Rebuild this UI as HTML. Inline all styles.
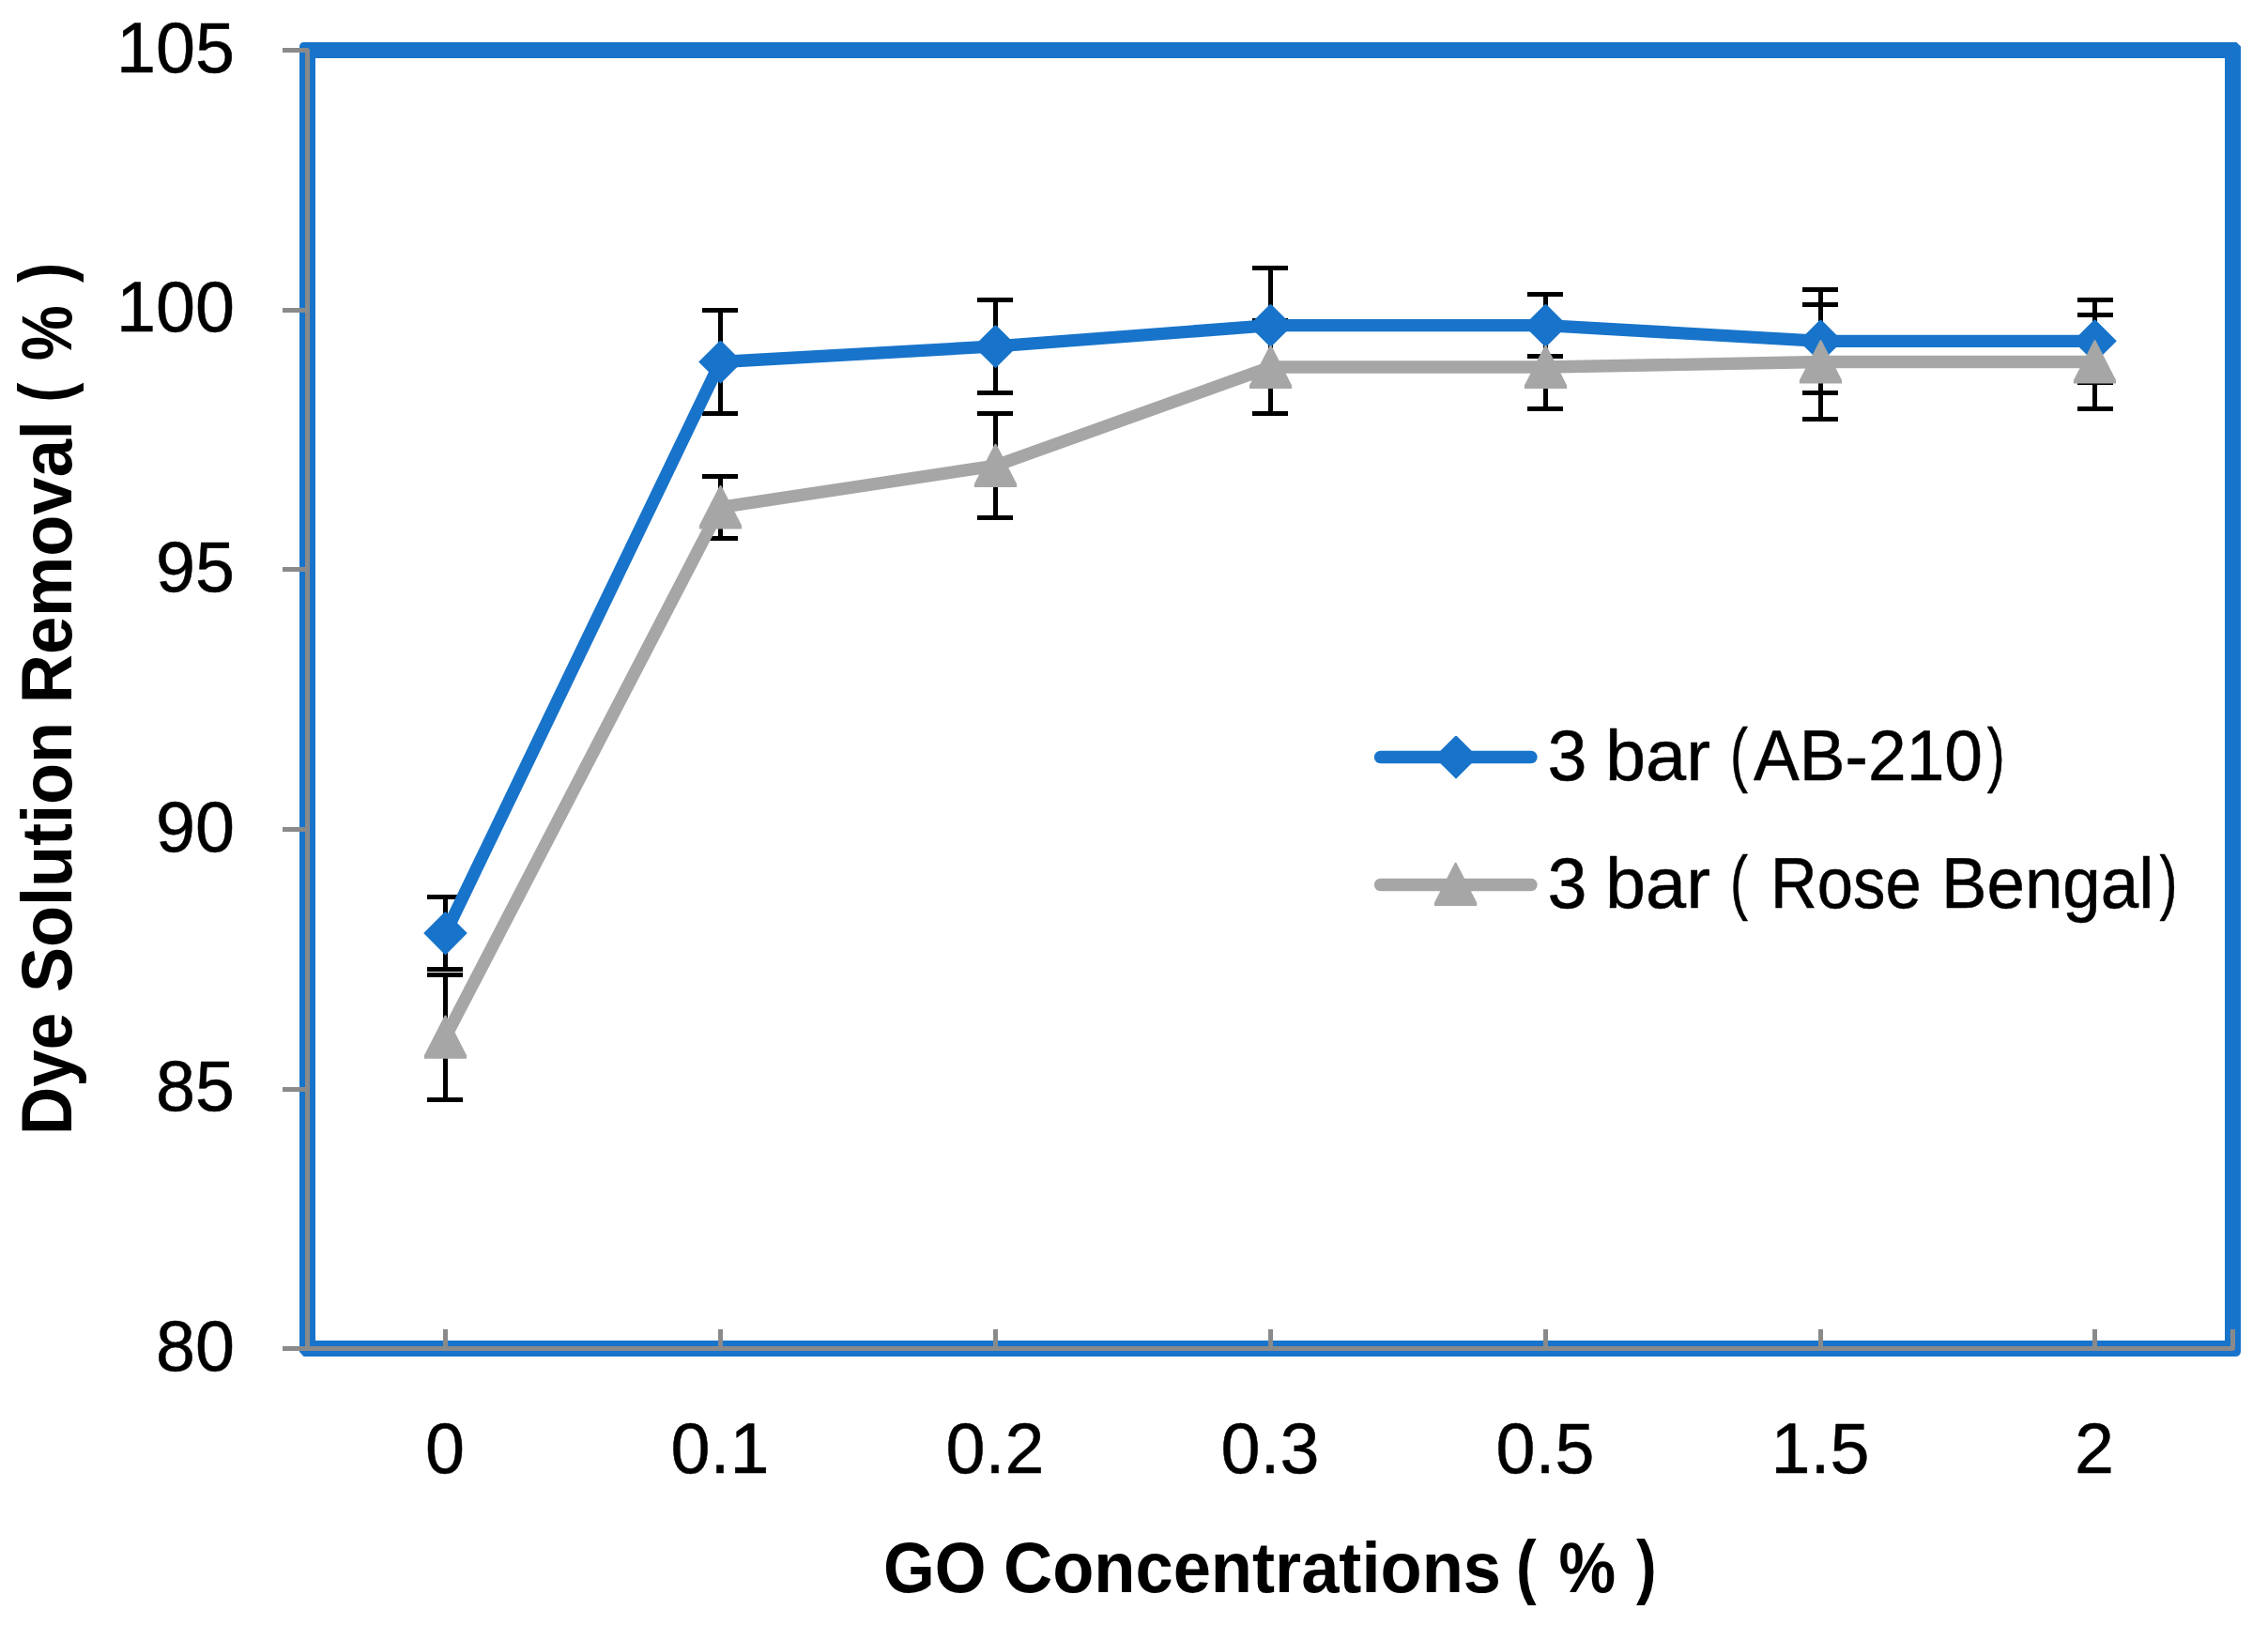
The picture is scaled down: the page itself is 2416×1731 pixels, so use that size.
<!DOCTYPE html>
<html lang="en"><head><meta charset="utf-8"><title>Dye Solution Removal vs GO Concentrations</title>
<style>html,body{margin:0;padding:0;background:#fff;}body{width:2416px;height:1731px;overflow:hidden;}svg{display:block;}text{font-family:"Liberation Sans",Arial,sans-serif;fill:#000;}.r{stroke:#000;stroke-width:0.5px;stroke-linejoin:round;}</style></head><body>
<svg width="2416" height="1731" viewBox="0 0 2416 1731">
<rect width="2416" height="1731" fill="#fff"/>
<path d="M323.5,45 L2382.5,45 L2387,49.5 L2387,1439.5 A5.5,5.5 0 0 1 2381.5,1445 L323.5,1445 L319,1440.0 L319,49.5 A4.5,4.5 0 0 1 323.5,45 Z M336,62 L336,1428 L2370,1428 L2370,62 Z" fill="#1874CA" fill-rule="evenodd"/>
<g fill="#8A8A8A">
<path d="M301,51 L328,51 L330,53 L330,1434 L2376,1434 L2376,1416 L2381,1416 L2381,1437 L2379,1439 L301,1439 L301,1434 L325,1434 L325,56 L301,56 Z"/>
<rect x="301" y="328" width="27" height="5"/>
<rect x="301" y="604" width="27" height="5"/>
<rect x="301" y="881" width="27" height="5"/>
<rect x="301" y="1158" width="27" height="5"/>
<rect x="472.0" y="1416" width="5" height="20"/>
<rect x="765.0" y="1416" width="5" height="20"/>
<rect x="1058.0" y="1416" width="5" height="20"/>
<rect x="1351.0" y="1416" width="5" height="20"/>
<rect x="1644.0" y="1416" width="5" height="20"/>
<rect x="1937.0" y="1416" width="5" height="20"/>
<rect x="2229.0" y="1416" width="5" height="20"/>
</g>
<g fill="#000">
<rect x="472" y="953" width="5" height="82"/>
<rect x="455" y="953" width="38" height="5"/>
<rect x="455" y="1030" width="38" height="5"/>
<rect x="765" y="328" width="5" height="115"/>
<rect x="748" y="328" width="38" height="5"/>
<rect x="748" y="438" width="38" height="5"/>
<rect x="1058" y="317" width="5" height="104"/>
<rect x="1041" y="317" width="38" height="5"/>
<rect x="1041" y="416" width="38" height="5"/>
<rect x="1351" y="283" width="5" height="127"/>
<rect x="1334" y="283" width="38" height="5"/>
<rect x="1334" y="405" width="38" height="5"/>
<rect x="1644" y="311" width="5" height="71"/>
<rect x="1627" y="311" width="38" height="5"/>
<rect x="1627" y="377" width="38" height="5"/>
<rect x="1937" y="306" width="5" height="115"/>
<rect x="1920" y="306" width="38" height="5"/>
<rect x="1920" y="416" width="38" height="5"/>
<rect x="2229" y="317" width="5" height="93"/>
<rect x="2213" y="317" width="38" height="5"/>
<rect x="2213" y="405" width="38" height="5"/>
<rect x="472" y="1036" width="5" height="138"/>
<rect x="455" y="1036" width="38" height="5"/>
<rect x="455" y="1169" width="38" height="5"/>
<rect x="765" y="505" width="5" height="71"/>
<rect x="748" y="505" width="38" height="5"/>
<rect x="748" y="571" width="38" height="5"/>
<rect x="1058" y="438" width="5" height="116"/>
<rect x="1041" y="438" width="38" height="5"/>
<rect x="1041" y="549" width="38" height="5"/>
<rect x="1351" y="339" width="5" height="104"/>
<rect x="1334" y="339" width="38" height="5"/>
<rect x="1334" y="438" width="38" height="5"/>
<rect x="1644" y="344" width="5" height="94"/>
<rect x="1627" y="344" width="38" height="5"/>
<rect x="1627" y="433" width="38" height="5"/>
<rect x="1937" y="322" width="5" height="127"/>
<rect x="1920" y="322" width="38" height="5"/>
<rect x="1920" y="444" width="38" height="5"/>
<rect x="2229" y="333" width="5" height="105"/>
<rect x="2213" y="333" width="38" height="5"/>
<rect x="2213" y="433" width="38" height="5"/>
</g>
<polyline points="474.5,994.1 767.5,385.5 1060.5,368.9 1353.5,346.7 1646.5,346.7 1939.5,363.3 2231.5,363.3" fill="none" stroke="#1874CA" stroke-width="13.3" stroke-linejoin="round" stroke-linecap="round"/>
<g fill="#1874CA"><path d="M473.7,971.6 L475.3,971.6 L497.8,994.1 L474.5,1017.4 L451.2,994.1 Z"/><path d="M766.7,363.0 L768.3,363.0 L790.8,385.5 L767.5,408.8 L744.2,385.5 Z"/><path d="M1059.7,346.4 L1061.3,346.4 L1083.8,368.9 L1060.5,392.2 L1037.2,368.9 Z"/><path d="M1352.7,324.2 L1354.3,324.2 L1376.8,346.7 L1353.5,370.0 L1330.2,346.7 Z"/><path d="M1645.7,324.2 L1647.3,324.2 L1669.8,346.7 L1646.5,370.0 L1623.2,346.7 Z"/><path d="M1938.7,340.8 L1940.3,340.8 L1962.8,363.3 L1939.5,386.6 L1916.2,363.3 Z"/><path d="M2230.7,340.8 L2232.3,340.8 L2254.8,363.3 L2231.5,386.6 L2208.2,363.3 Z"/></g>
<polyline points="474.5,1104.8 767.5,540.4 1060.5,496.1 1353.5,391.0 1646.5,391.0 1939.5,385.5 2231.5,385.5" fill="none" stroke="#A6A6A6" stroke-width="13.3" stroke-linejoin="round" stroke-linecap="round"/>
<g fill="#A6A6A6"><path d="M473.8,1081.5 L475.2,1081.5 L497.1,1124.2 L497.1,1127.8 L451.9,1127.8 L451.9,1124.2 Z"/><path d="M766.8,517.1 L768.2,517.1 L790.1,559.8 L790.1,563.4 L744.9,563.4 L744.9,559.8 Z"/><path d="M1059.8,472.8 L1061.2,472.8 L1083.1,515.5 L1083.1,519.1 L1037.9,519.1 L1037.9,515.5 Z"/><path d="M1352.8,367.7 L1354.2,367.7 L1376.1,410.4 L1376.1,414.0 L1330.9,414.0 L1330.9,410.4 Z"/><path d="M1645.8,367.7 L1647.2,367.7 L1669.1,410.4 L1669.1,414.0 L1623.9,414.0 L1623.9,410.4 Z"/><path d="M1938.8,362.2 L1940.2,362.2 L1962.1,404.9 L1962.1,408.5 L1916.9,408.5 L1916.9,404.9 Z"/><path d="M2230.8,362.2 L2232.2,362.2 L2254.1,404.9 L2254.1,408.5 L2208.9,408.5 L2208.9,404.9 Z"/></g>
<line x1="1470.5" y1="806.5" x2="1631" y2="806.5" stroke="#1874CA" stroke-width="13.3" stroke-linecap="round"/>
<g fill="#1874CA"><path d="M1550.2,784.0 L1551.8,784.0 L1574.3,806.5 L1551.0,829.8 L1527.7,806.5 Z"/></g>
<line x1="1470.5" y1="942.5" x2="1631" y2="942.5" stroke="#A6A6A6" stroke-width="13.3" stroke-linecap="round"/>
<g fill="#A6A6A6"><path d="M1549.9,918.7 L1551.3,918.7 L1573.2,961.4 L1573.2,965.0 L1528.0,965.0 L1528.0,961.4 Z"/></g>
<text font-size="75.5" class="r"><tspan x="1648.5" y="830.8">3</tspan> <tspan x="1710" y="830.8" textLength="112" lengthAdjust="spacingAndGlyphs">bar</tspan> <tspan x="1843" y="828.5" textLength="19" lengthAdjust="spacingAndGlyphs">(</tspan><tspan x="1868" y="830.8" textLength="244" lengthAdjust="spacingAndGlyphs">AB-210</tspan><tspan x="2116.8" y="828.5" textLength="19" lengthAdjust="spacingAndGlyphs">)</tspan></text>
<text font-size="75.5" class="r"><tspan x="1648.5" y="967.3">3</tspan> <tspan x="1710" y="967.3" textLength="112" lengthAdjust="spacingAndGlyphs">bar</tspan> <tspan x="1843" y="965.0" textLength="19" lengthAdjust="spacingAndGlyphs">(</tspan> <tspan x="1886" y="967.3" textLength="160.7" lengthAdjust="spacingAndGlyphs">Rose</tspan> <tspan x="2068" y="967.3" textLength="226.3" lengthAdjust="spacingAndGlyphs">Bengal</tspan><tspan x="2300.6" y="965.0" textLength="19" lengthAdjust="spacingAndGlyphs">)</tspan></text>
<text x="250" y="76.8" font-size="75.5" text-anchor="end" class="r">105</text>
<text x="250" y="353.4" font-size="75.5" text-anchor="end" class="r">100</text>
<text x="250" y="630.1" font-size="75.5" text-anchor="end" class="r">95</text>
<text x="250" y="906.8" font-size="75.5" text-anchor="end" class="r">90</text>
<text x="250" y="1183.4" font-size="75.5" text-anchor="end" class="r">85</text>
<text x="250" y="1460.0" font-size="75.5" text-anchor="end" class="r">80</text>
<text x="474.0" y="1568.5" font-size="75.5" text-anchor="middle" class="r">0</text>
<text x="767.0" y="1568.5" font-size="75.5" text-anchor="middle" class="r">0.1</text>
<text x="1060.0" y="1568.5" font-size="75.5" text-anchor="middle" class="r">0.2</text>
<text x="1353.0" y="1568.5" font-size="75.5" text-anchor="middle" class="r">0.3</text>
<text x="1646.0" y="1568.5" font-size="75.5" text-anchor="middle" class="r">0.5</text>
<text x="1939.0" y="1568.5" font-size="75.5" text-anchor="middle" class="r">1.5</text>
<text x="2231.0" y="1568.5" font-size="75.5" text-anchor="middle" class="r">2</text>
<text font-size="76.7" font-weight="bold"><tspan x="941" y="1696.0" textLength="109.5" lengthAdjust="spacingAndGlyphs">GO</tspan> <tspan x="1069" y="1696.0" textLength="530" lengthAdjust="spacingAndGlyphs">Concentrations</tspan> <tspan x="1615" y="1693.5" textLength="21.6" lengthAdjust="spacingAndGlyphs">(</tspan> <tspan x="1660.5" y="1696.0" textLength="60.6" lengthAdjust="spacingAndGlyphs">%</tspan> <tspan x="1743" y="1693.5" textLength="21.6" lengthAdjust="spacingAndGlyphs">)</tspan></text>
<g transform="translate(75.8,1204.6) rotate(-90)"><text font-size="76.7" font-weight="bold"><tspan x="-4.4" y="0.0" textLength="130.1" lengthAdjust="spacingAndGlyphs">Dye</tspan> <tspan x="147.5" y="0.0" textLength="288.2" lengthAdjust="spacingAndGlyphs">Solution</tspan> <tspan x="455.3" y="0.0" textLength="301.2" lengthAdjust="spacingAndGlyphs">Removal</tspan> <tspan x="776.1" y="-2.5" textLength="20.8" lengthAdjust="spacingAndGlyphs">(</tspan> <tspan x="820.3" y="0.0" textLength="58.9" lengthAdjust="spacingAndGlyphs">%</tspan> <tspan x="903.7" y="-2.5" textLength="21.1" lengthAdjust="spacingAndGlyphs">)</tspan></text></g>
</svg></body></html>
